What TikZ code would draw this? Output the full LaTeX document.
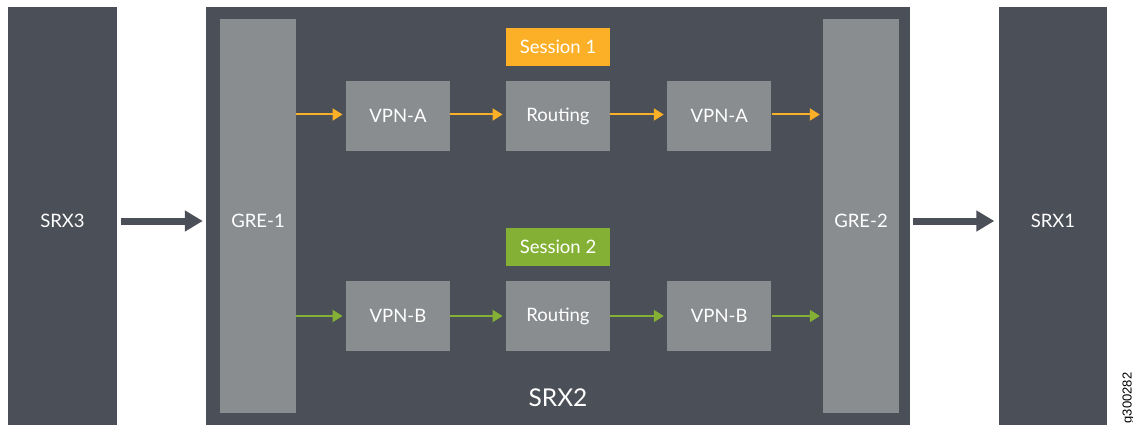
\documentclass[tikz,border=0pt]{standalone}
\usepackage{fontspec}
\setmainfont{Lato}
\newfontfamily\tagfont{Liberation Sans}
\usetikzlibrary{arrows.meta}
\definecolor{darkbox}{RGB}{75,79,87}
\definecolor{greybox}{RGB}{137,141,143}
\definecolor{sessorange}{RGB}{251,176,39}
\definecolor{sessgreen}{RGB}{132,177,53}
\tikzset{
  devbox/.style={fill=darkbox, draw=none, inner sep=0pt, text=white, font=\fontsize{18.5}{20}\selectfont},
  grebox/.style={fill=greybox, draw=none, inner sep=0pt, minimum width=76pt, minimum height=394pt},
  stepbox/.style={fill=greybox, draw=none, inner sep=0pt, minimum width=104.5pt, minimum height=70pt, text=white, font=\fontsize{18.5}{20}\selectfont},
  sessbox/.style={draw=none, inner sep=0pt, minimum width=104.5pt, minimum height=37.5pt, text=white, font=\fontsize{18.5}{20}\selectfont},
  lbl/.style={text=white, inner sep=0pt, font=\fontsize{18.5}{20}\selectfont},
  flowA/.style={draw=sessorange, line width=2pt, -{Triangle[length=10pt,width=12pt]}, shorten >=3pt},
  flowB/.style={draw=sessgreen, line width=2pt, -{Triangle[length=10pt,width=12pt]}, shorten >=3pt},
  bigarrow/.style={draw=darkbox, line width=7pt, -{Triangle[length=18pt,width=20pt]}},
}
\begin{document}
\begin{tikzpicture}[x=1pt,y=-1pt]
\useasboundingbox (0,0) rectangle (1133,425);
\fill[white] (0,0) rectangle (1133,425);
% outer devices
\node[devbox, minimum width=109pt, minimum height=428pt] (srx3) at (62.5,221) {SRX3};
\node[devbox, minimum width=704pt, minimum height=428pt] (srx2) at (558,221) {};
\node[devbox, minimum width=108pt, minimum height=428pt] (srx1) at (1053,221) {SRX1};
\node[lbl, font=\fontsize{24.5}{26}\selectfont] (srx2lbl) at (558,398) {SRX2};
% GRE tunnels
\node[grebox] (gre1) at (258,216) {};
\node[lbl] (gre1lbl) at (258,221) {GRE-1};
\node[grebox] (gre2) at (861,216) {};
\node[lbl] (gre2lbl) at (861,221) {GRE-2};
% sessions
\node[sessbox, fill=sessorange] (s1) at (558,47) {Session 1};
\node[sessbox, fill=sessgreen] (s2) at (558,247) {Session 2};
% row 1
\node[stepbox] (a1) at (398,116) {VPN-A};
\node[stepbox] (r1) at (558,116) {Routing};
\node[stepbox] (a2) at (719.2,116) {VPN-A};
% row 2
\node[stepbox] (b1) at (398,316) {VPN-B};
\node[stepbox] (r2) at (558,316) {Routing};
\node[stepbox] (b2) at (719.2,316) {VPN-B};
% row 1 arrows
\draw[flowA] ([yshift=1.5pt]gre1.east |- a1.west) -- ([yshift=1.5pt]a1.west);
\draw[flowA] ([yshift=1.5pt]a1.east) -- ([yshift=1.5pt]r1.west);
\draw[flowA] ([yshift=1.5pt]r1.east) -- ([yshift=1.5pt]a2.west);
\draw[flowA] ([yshift=1.5pt]a2.east) -- ([yshift=1.5pt]gre2.west |- a2.east);
% row 2 arrows
\draw[flowB] (gre1.east |- b1.west) -- (b1.west);
\draw[flowB] (b1.east) -- (r2.west);
\draw[flowB] (r2.east) -- (b2.west);
\draw[flowB] (b2.east) -- (gre2.west |- b2.east);
% big arrows
\draw[bigarrow, shorten <=4pt, shorten >=3pt] (srx3.east |- 0,221) -- (srx2.west |- 0,221);
\draw[bigarrow, shorten <=3pt, shorten >=4.5pt] (srx2.east |- 0,221) -- (srx1.west |- 0,221);
% figure tag
\node[rotate=90, anchor=base west, inner sep=0pt, text=black, font=\tagfont\fontsize{13}{14}\selectfont] (tag) at (1131.5,423.5) {g300282};
\end{tikzpicture}
\end{document}
